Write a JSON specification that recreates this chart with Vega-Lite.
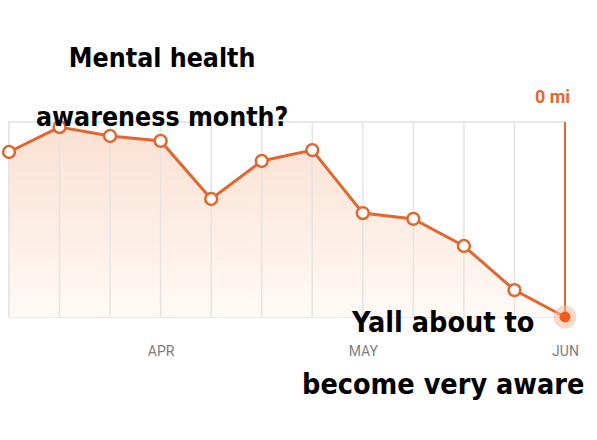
{
  "$schema": "https://vega.github.io/schema/vega-lite/v6.json",
  "width": 556,
  "height": 195,
  "autosize": {"type": "none"},
  "padding": {"left": 9, "top": 122, "right": 32, "bottom": 123},
  "background": "#ffffff",
  "config": {"view": {"stroke": "#e2e2e2", "strokeWidth": 1.5}},
  "datasets": {
    "series": [
      {"i": 0, "miles": 8.46},
      {"i": 1, "miles": 9.74},
      {"i": 2, "miles": 9.28},
      {"i": 3, "miles": 9.03},
      {"i": 4, "miles": 6.05},
      {"i": 5, "miles": 8.0},
      {"i": 6, "miles": 8.56},
      {"i": 7, "miles": 5.33},
      {"i": 8, "miles": 5.03},
      {"i": 9, "miles": 3.64},
      {"i": 10, "miles": 1.38},
      {"i": 11, "miles": 0}
    ],
    "notes": [
      {"i": 3.03, "miles": 12.82, "text": "Mental health", "part": "top"},
      {"i": 3.03, "miles": 9.8, "text": "awareness month?", "part": "top"},
      {"i": 8.59, "miles": -0.77, "text": "Yall about to", "part": "bottom"},
      {"i": 8.59, "miles": -3.95, "text": "become very aware", "part": "bottom"}
    ]
  },
  "encoding": {
    "x": {
      "field": "i",
      "type": "quantitative",
      "scale": {"domain": [0, 11], "nice": false, "zero": false},
      "axis": {
        "values": [3, 7, 11],
        "labelExpr": "datum.value == 3 ? 'APR' : datum.value == 7 ? 'MAY' : 'JUN'",
        "grid": false, "domain": false, "ticks": false,
        "labelPadding": 27, "labelColor": "#7d7d7d", "labelFontSize": 14,
        "labelFont": "Roboto", "labelOverlap": false, "labelFlush": false,
        "title": null
      }
    },
    "y": {
      "field": "miles",
      "type": "quantitative",
      "scale": {"domain": [0, 10], "nice": false, "zero": false},
      "axis": null
    }
  },
  "layer": [
    {
      "data": {"name": "series"},
      "mark": {
        "type": "area",
        "color": {
          "gradient": "linear", "x1": 0, "y1": 0, "x2": 0, "y2": 1,
          "stops": [
            {"offset": 0, "color": "#fbe1d2"},
            {"offset": 0.6, "color": "#fdefe7"},
            {"offset": 1, "color": "#fffaf7"}
          ]
        }
      }
    },
    {
      "data": {"name": "series"},
      "transform": [{"filter": "datum.i < 11"}],
      "mark": {"type": "rule", "color": "#e4e4e4", "strokeWidth": 1.5},
      "encoding": {"y": {"value": 0}, "y2": {"value": 195}}
    },
    {
      "data": {"name": "series"},
      "transform": [{"filter": "datum.i == 11"}],
      "mark": {"type": "rule", "color": "#e2672f", "strokeWidth": 2},
      "encoding": {"y": {"value": 0}, "y2": {"value": 195}}
    },
    {
      "data": {"name": "series"},
      "mark": {"type": "line", "color": "#e2672f", "strokeWidth": 3}
    },
    {
      "data": {"name": "series"},
      "transform": [{"filter": "datum.i < 11"}],
      "mark": {"type": "point", "filled": true, "fill": "#ffffff", "stroke": "#e2672f", "strokeWidth": 2.5, "size": 140, "opacity": 1}
    },
    {
      "data": {"name": "series"},
      "transform": [{"filter": "datum.i == 11"}],
      "mark": {"type": "point", "filled": true, "color": "#f7b89a", "size": 520, "opacity": 0.55}
    },
    {
      "data": {"name": "series"},
      "transform": [{"filter": "datum.i == 11"}],
      "mark": {"type": "point", "filled": true, "color": "#f05a1c", "size": 120, "opacity": 1}
    },
    {
      "data": {"values": [{"i": 11.1, "miles": 10.97, "text": "0 mi"}]},
      "mark": {"type": "text", "align": "right", "baseline": "alphabetic", "font": "Roboto", "fontWeight": "bold", "fontSize": 18, "color": "#e2672f"},
      "encoding": {"text": {"field": "text"}}
    },
    {
      "data": {"name": "notes"},
      "transform": [{"filter": "datum.part == 'top'"}],
      "mark": {"type": "text", "align": "center", "baseline": "alphabetic", "font": "DejaVu Sans Condensed", "fontWeight": "bold", "fontSize": 26.5, "color": "#000000"},
      "encoding": {"text": {"field": "text"}}
    },
    {
      "data": {"name": "notes"},
      "transform": [{"filter": "datum.part == 'bottom'"}],
      "mark": {"type": "text", "align": "center", "baseline": "alphabetic", "font": "DejaVu Sans Condensed", "fontWeight": "bold", "fontSize": 28.5, "color": "#000000"},
      "encoding": {"text": {"field": "text"}}
    }
  ]
}
